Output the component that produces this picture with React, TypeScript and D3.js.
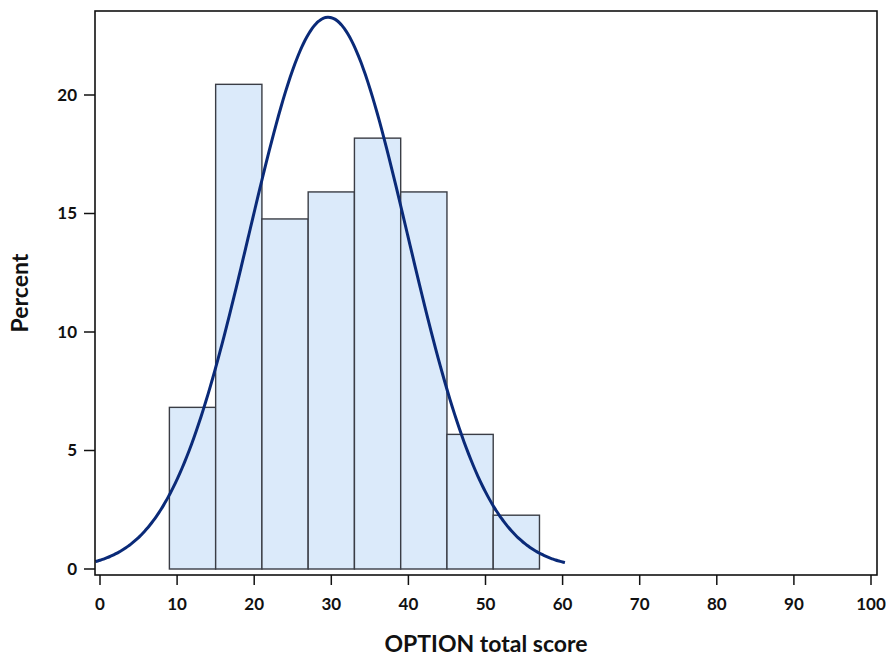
import * as d3 from "d3";

// histogram bins (OPTION total score), width 6
const binStarts = [9, 15, 21, 27, 33, 39, 45, 51];
const binWidth = 6;
const percents = [6.82, 20.45, 14.77, 15.91, 18.18, 15.91, 5.68, 2.27];

// fitted normal curve parameters, drawn over [curveFrom, curveTo]
const normalMean = 29.6;
const normalSd = 10.28;
const curveFrom = -0.6;
const curveTo = 60.3;

const xTicks = [0, 10, 20, 30, 40, 50, 60, 70, 80, 90, 100];
const yTicks = [0, 5, 10, 15, 20];

const W = 886, H = 657;
const frame = { left: 95, top: 11, right: 877, bottom: 575 };
const FONT = "Lato, 'Open Sans', sans-serif";

export default function App() {
  const x = d3.scaleLinear().domain([0, 100]).range([100, 871]);
  const y = d3.scaleLinear().domain([0, 20]).range([569, 95]);

  const pdfPct = (v: number) =>
    (100 * binWidth * Math.exp(-0.5 * ((v - normalMean) / normalSd) ** 2)) /
    (normalSd * Math.sqrt(2 * Math.PI));

  const curvePts = d3.range(0, 201).map((i) => curveFrom + ((curveTo - curveFrom) * i) / 200);
  const line = d3.line<number>().x((v) => x(v)).y((v) => y(pdfPct(v))).curve(d3.curveBasis);

  return (
    <svg
      width={W}
      height={H}
      style={{ position: "absolute", left: 0, top: 0, background: "#fff" }}
      fontFamily={FONT}
    >
      {/* bars */}
      <g>
        {binStarts.map((b, i) => (
          <rect
            key={b}
            x={x(b)}
            y={y(percents[i])}
            width={x(b + binWidth) - x(b)}
            height={y(0) - y(percents[i])}
            fill="#dbeafa"
            stroke="#3a3d45"
            strokeWidth={1.4}
          />
        ))}
      </g>

      {/* normal curve */}
      <path d={line(curvePts) || ""} fill="none" stroke="#0a2a78" strokeWidth={3} />

      {/* frame */}
      <rect
        x={frame.left}
        y={frame.top}
        width={frame.right - frame.left}
        height={frame.bottom - frame.top}
        fill="none"
        stroke="#111"
        strokeWidth={1.6}
      />

      {/* x axis */}
      <g>
        {xTicks.map((t) => (
          <g key={t}>
            <line x1={x(t)} x2={x(t)} y1={frame.bottom} y2={frame.bottom + 10} stroke="#111" strokeWidth={1.5} />
            <text x={x(t)} y={610} textAnchor="middle" fontSize={17} fontWeight="bold" fill="#111">
              {t}
            </text>
          </g>
        ))}
        <text x={486} y={652} textAnchor="middle" fontSize={23} fontWeight="bold" fill="#111">
          OPTION total score
        </text>
      </g>

      {/* y axis */}
      <g>
        {yTicks.map((t) => (
          <g key={t}>
            <line x1={frame.left - 11} x2={frame.left} y1={y(t)} y2={y(t)} stroke="#111" strokeWidth={1.5} />
            <text x={77} y={y(t)} dy="0.35em" textAnchor="end" fontSize={17} fontWeight="bold" fill="#111">
              {t}
            </text>
          </g>
        ))}
        <text
          transform={`translate(28,293) rotate(-90)`}
          textAnchor="middle"
          fontSize={23}
          fontWeight="bold"
          fill="#111"
        >
          Percent
        </text>
      </g>
    </svg>
  );
}
